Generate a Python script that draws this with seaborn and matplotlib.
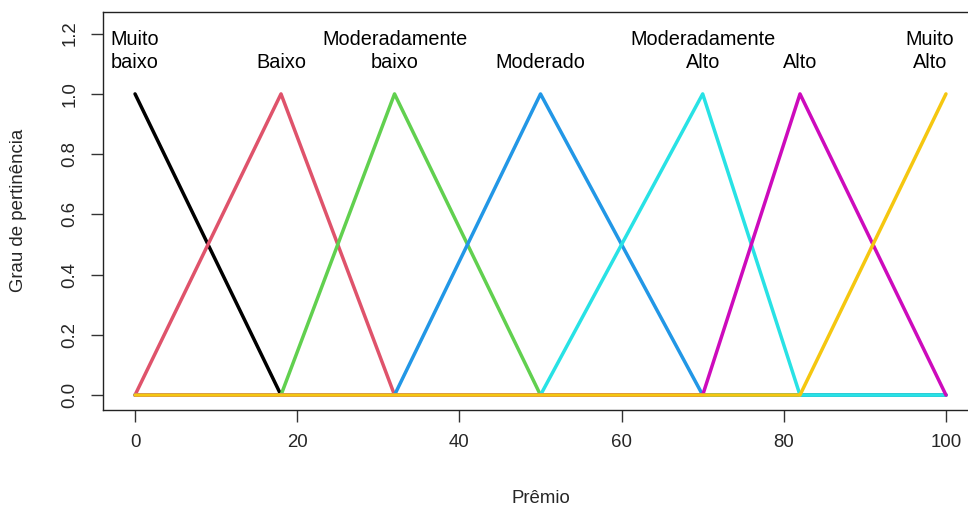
import matplotlib
matplotlib.use("Agg")
import matplotlib.pyplot as plt
import seaborn as sns
import pandas as pd

names = ["Muito\nbaixo", "Baixo", "Moderadamente\nbaixo", "Moderado",
         "Moderadamente\nAlto", "Alto", "Muito\nAlto"]
colors = ["#000000", "#DF536B", "#61D04F", "#2297E6", "#28E2E5", "#CD0BBC", "#F5C710"]
xs = [[0, 18, 100],
      [0, 18, 32, 100],
      [0, 18, 32, 50, 100],
      [0, 32, 50, 70, 100],
      [0, 50, 70, 82, 100],
      [0, 70, 82, 100],
      [0, 82, 100]]
ys = [[1, 0, 0],
      [0, 1, 0, 0],
      [0, 0, 1, 0, 0],
      [0, 0, 1, 0, 0],
      [0, 0, 1, 0, 0],
      [0, 0, 1, 0],
      [0, 0, 1]]
label_x = [0, 18, 32, 50, 70, 82, 98]
xticks = [0, 20, 40, 60, 80, 100]
yticks = [0.0, 0.2, 0.4, 0.6, 0.8, 1.0, 1.2]

sns.set_style("white")
plt.rcParams['font.family'] = ['Liberation Sans', 'DejaVu Sans']

fig = plt.figure(figsize=(9.68, 5.05), dpi=100)
W, H = 968, 505
left, right, top, bottom = 102.6, 978.4, 12.0, 409.5
ax = fig.add_axes([left / W, 1 - bottom / H, (right - left) / W, (bottom - top) / H])

for name, c, x, y in zip(names, colors, xs, ys):
    df = pd.DataFrame({"Prêmio": x, "Grau": y})
    sns.lineplot(data=df, x="Prêmio", y="Grau", color=c, linewidth=2.5,
                 sort=False, estimator=None, ax=ax)

for name, lx in zip(names, label_x):
    ax.text(lx, 1.072, name, ha="center", va="bottom", fontsize=14.3,
            linespacing=1.25, color="black")

ax.set_xlim(-4, 104)
ax.set_ylim(-0.048, 1.272)
ax.set_xticks(xticks)
ax.set_xticklabels([str(v) for v in xticks])
ax.set_yticks(yticks)
ax.set_yticklabels([f"{v:.1f}" for v in yticks], rotation=90, va="center")
ax.tick_params(axis="both", which="major", direction="out", length=8.5, width=1,
               color="#333333", labelsize=13.4, pad=9, bottom=True, left=True)
for s in ax.spines.values():
    s.set_color("#222222")
    s.set_linewidth(1.0)
    s.set_visible(True)
ax.set_xlabel("Prêmio", fontsize=13.4, labelpad=28)
ax.set_ylabel("Grau de pertinência", fontsize=13.4, labelpad=25)

fig.savefig("out.png", dpi=100)
